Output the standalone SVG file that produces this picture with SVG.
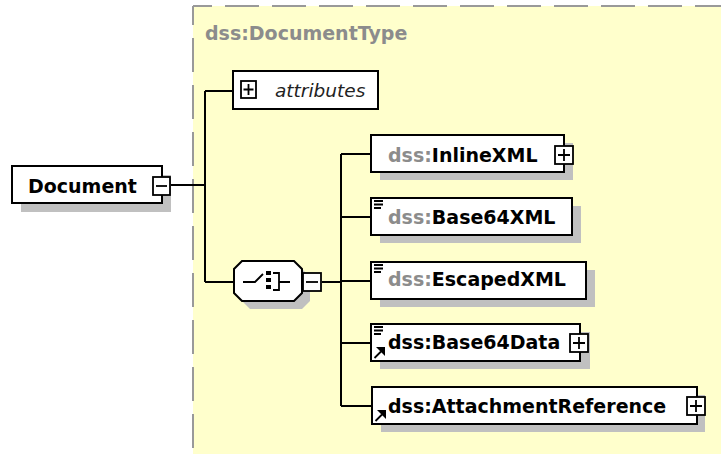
<svg xmlns="http://www.w3.org/2000/svg" width="721" height="454" viewBox="0 0 721 454">
<defs>
<style>
.type{fill:#FFFFCC}
.dash{fill:none;stroke:#999;stroke-width:2;stroke-dasharray:34 13;stroke-dashoffset:15}
.box{fill:#fff;stroke:#000;stroke-width:2}
.shadow{fill:#c0c0c0}
.btn{fill:#fff;stroke:#000;stroke-width:1.8}
.sign{stroke:#000;stroke-width:1.8;fill:none}
.lbl{font-family:"DejaVu Sans",sans-serif;font-weight:bold;font-size:19px;fill:#000}
.ns{fill:#8c8c8c}
.conn path{fill:none;stroke:#000;stroke-width:2}
.ico{fill:#000}
</style>
</defs>
<rect width="721" height="454" fill="#fff"/>
<g id="documentType">
<rect class="type" x="193" y="6" width="528" height="448"/>
<path class="dash" d="M193,6 H721"/>
<path class="dash" d="M193,6 V454"/>
<text class="lbl ns" x="205" y="40">dss:DocumentType</text>
</g>
<g id="connectors" class="conn">
<path d="M171,185 H205"/>
<path d="M205,91 V282"/>
<path d="M205,91 H233"/>
<path d="M205,282 H234"/>
<path d="M322,282 H341"/>
<path d="M341,154 V406"/>
<path d="M341,154 H371"/>
<path d="M341,217 H371"/>
<path d="M341,281 H371"/>
<path d="M341,343 H371"/>
<path d="M341,406 H371"/>
</g>
<g id="document">
<rect class="shadow" x="21" y="175" width="150" height="37"/>
<rect class="box" x="12" y="166" width="150" height="37"/>
<text class="lbl" x="28" y="193">Document</text>
<rect class="btn" x="153" y="177" width="17" height="18"/>
<path class="sign" d="M156,186 H167"/>
</g>
<g id="attributes">
<rect class="box" x="233" y="71" width="145" height="38"/>
<rect class="btn" x="241" y="81" width="15" height="17"/>
<path class="sign" d="M243.5,89.5 H253.5 M248.5,84 V95"/>
<text x="275" y="97" font-family="DejaVu Sans, sans-serif" font-style="italic" font-size="18.5" fill="#222">attributes</text>
</g>
<g id="choice">
<polygon class="shadow" points="250,269 302,269 310,277 310,301 302,309 250,309 242,301 242,277"/>
<polygon class="box" points="242,261 294,261 302,269 302,293 294,301 242,301 234,293 234,269"/>
<path class="sign" stroke-width="2" d="M243,282 H255 L263,274"/>
<rect class="ico" x="266" y="271" width="5" height="4"/>
<rect class="ico" x="266" y="278" width="5" height="4"/>
<rect class="ico" x="266" y="285" width="5" height="4"/>
<path class="sign" stroke-width="2" d="M273,273 H279 V290 H273 M279,282 H290"/>
<rect class="btn" x="303" y="273" width="18" height="18"/>
<path class="sign" d="M306,282 H318"/>
</g>
<g id="inlineXML">
<rect class="shadow" x="380" y="143" width="193" height="37"/>
<rect class="box" x="371" y="135" width="193" height="37"/>
<text class="lbl" x="388" y="162"><tspan class="ns">dss:</tspan>InlineXML</text>
<rect class="btn" x="555" y="146" width="18" height="18"/>
<path class="sign" d="M558,155 H570 M564,149 V161"/>
</g>
<g id="base64XML">
<rect class="shadow" x="380" y="206" width="201" height="37"/>
<rect class="box" x="371" y="198" width="201" height="37"/>
<path class="sign" stroke-width="1.6" d="M374,201 H383 M374,204.5 H383 M374,208 H381"/>
<text class="lbl" x="388" y="224"><tspan class="ns">dss:</tspan>Base64XML</text>
</g>
<g id="escapedXML">
<rect class="shadow" x="380" y="270" width="215" height="37"/>
<rect class="box" x="371" y="262" width="215" height="37"/>
<path class="sign" stroke-width="1.6" d="M374,265 H383 M374,268.5 H383 M374,272 H381"/>
<text class="lbl" x="388" y="286"><tspan class="ns">dss:</tspan>EscapedXML</text>
</g>
<g id="base64Data">
<rect class="shadow" x="380" y="332" width="210" height="37"/>
<rect class="box" x="371" y="324" width="209" height="37"/>
<path class="sign" stroke-width="1.6" d="M374,327 H383 M374,330.5 H383 M374,334 H381"/>
<path class="sign" stroke-width="3" d="M374.5,358 L381,351.5"/>
<polygon class="ico" points="376,347 385,347 385,356"/>
<text class="lbl" x="388" y="349">dss:Base64Data</text>
<rect class="btn" x="570" y="334" width="18" height="18"/>
<path class="sign" d="M573,343 H585 M579,337 V349"/>
</g>
<g id="attachmentReference">
<rect class="shadow" x="381" y="395" width="324" height="37"/>
<rect class="box" x="372" y="387" width="325" height="37"/>
<path class="sign" stroke-width="3" d="M375.5,421 L382,414.5"/>
<polygon class="ico" points="377,410 386,410 386,419"/>
<text class="lbl" x="388" y="413">dss:AttachmentReference</text>
<rect class="btn" x="687" y="397" width="18" height="18"/>
<path class="sign" d="M690,406 H702 M696,400 V412"/>
</g>
</svg>
